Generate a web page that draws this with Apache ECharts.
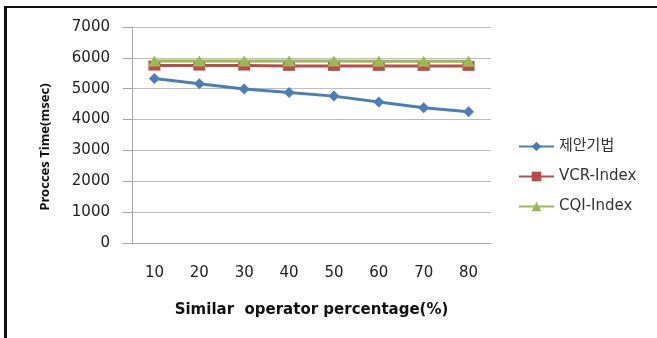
<!DOCTYPE html>
<html>
<head>
<meta charset="utf-8">
<script src="https://cdn.jsdelivr.net/npm/echarts@6/dist/echarts.min.js"></script>
<style>
  html, body { margin: 0; padding: 0; background: #fff; }
  #chart { width: 657px; height: 338px; }
  #frame {
    position: absolute; left: 4px; top: 6px; right: 0; bottom: 0;
    border-top: 2px solid #111; border-left: 3px solid #111;
    pointer-events: none;
  }
</style>
</head>
<body>
<div id="chart"></div>
<div id="frame"></div>
<script>
const categories = ['10', '20', '30', '40', '50', '60', '70', '80']
const proposed = [5330, 5160, 4990, 4880, 4760, 4570, 4380, 4250]
const vcrIndex = [5750, 5750, 5750, 5740, 5740, 5740, 5740, 5740]
const cqiIndex = [5900, 5900, 5900, 5900, 5900, 5890, 5890, 5890]
const seriesNames = ['제안기법', 'VCR-Index', 'CQI-Index']

const font = "'DejaVu Sans', 'Noto Sans CJK KR', sans-serif"
const myChart = echarts.init(document.getElementById('chart'))

myChart.setOption({
  animation: false,
  textStyle: { fontFamily: font },
  grid: { left: 132, top: 27, right: 166, bottom: 95 },
  legend: {
    orient: 'vertical',
    left: 513,
    top: 134,
    itemWidth: 35,
    itemHeight: 12,
    itemGap: 15,
    textStyle: { fontSize: 15, color: '#333', fontFamily: font },
    data: seriesNames
  },
  xAxis: {
    type: 'category',
    data: categories,
    boundaryGap: true,
    name: 'Similar  operator percentage(%)',
    nameLocation: 'middle',
    nameGap: 60,
    nameTextStyle: { fontSize: 15, fontWeight: 'bold', color: '#111', fontFamily: font },
    axisLine: { lineStyle: { color: '#a6a6a6' } },
    axisTick: { show: false },
    axisLabel: { margin: 23, fontSize: 15, color: '#222' }
  },
  yAxis: {
    type: 'value',
    min: 0,
    max: 7000,
    interval: 1000,
    name: 'Procces Time(msec)',
    nameLocation: 'middle',
    nameGap: 80,
    nameTextStyle: {
      fontSize: 13, fontWeight: 'bold', color: '#111',
      fontFamily: "'Noto Sans', sans-serif", padding: [0, 24, 0, 0]
    },
    axisLine: { show: true, lineStyle: { color: '#a6a6a6' } },
    axisTick: { show: true, length: 9, lineStyle: { color: '#a6a6a6' } },
    axisLabel: { margin: 22, fontSize: 15, color: '#222', formatter: v => String(v) },
    splitLine: { lineStyle: { color: '#bdbdbd' } }
  },
  series: [
    {
      name: seriesNames[0],
      type: 'line',
      data: proposed,
      symbol: 'diamond',
      symbolSize: 11,
      lineStyle: { width: 3, color: '#4a7ebb' },
      itemStyle: { color: '#4a7ebb' },
      z: 3
    },
    {
      name: seriesNames[1],
      type: 'line',
      data: vcrIndex,
      symbol: 'rect',
      symbolSize: [12, 10],
      lineStyle: { width: 3, color: '#be4b48' },
      itemStyle: { color: '#be4b48' },
      z: 2
    },
    {
      name: seriesNames[2],
      type: 'line',
      data: cqiIndex,
      symbol: 'triangle',
      symbolSize: [13, 11],
      lineStyle: { width: 3, color: '#98b954' },
      itemStyle: { color: '#98b954' },
      z: 4
    }
  ]
})
</script>
</body>
</html>
